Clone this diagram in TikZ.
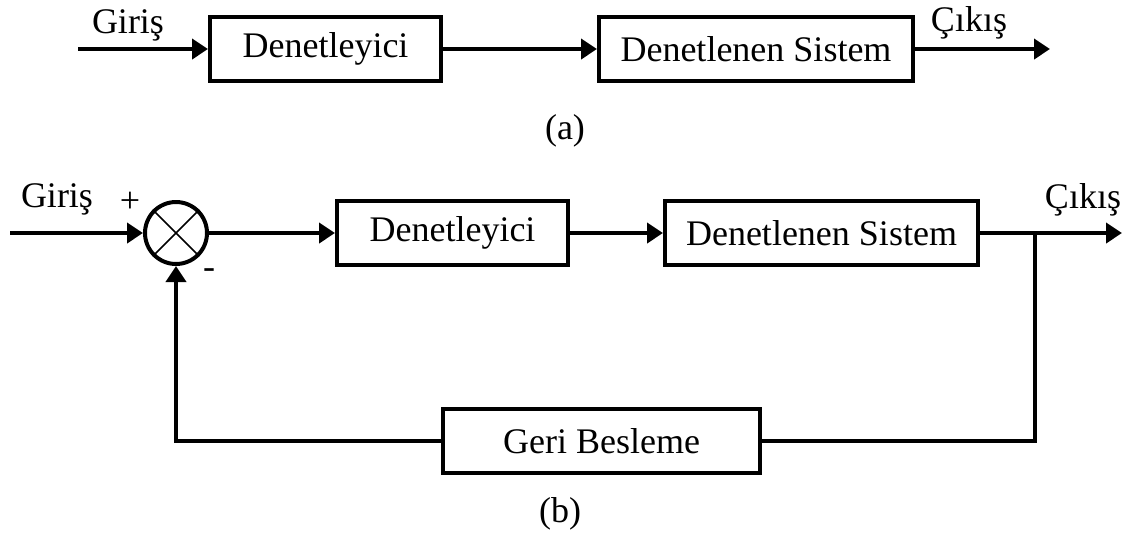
\documentclass[tikz,border=0pt]{standalone}
\usepackage{fontspec}
\setmainfont{Liberation Serif}
\usetikzlibrary{arrows.meta}
\begin{document}
\begin{tikzpicture}[x=0.5pt,y=-0.5pt,line width=2pt,
    font=\fontsize{18}{21}\selectfont,
    blok/.style={draw,line width=2pt,inner sep=0pt,minimum height=32pt},
    ok/.style={-{Triangle[length=8pt,width=10pt]}}]
  \useasboundingbox (0,0) rectangle (1132,538);
  % (a) acik dongu
  \node[blok,minimum width=115.5pt] (den1) at (325.5,49) {Denetleyici};
  \node[blok,minimum width=157pt] (sis1) at (756,49) {Denetlenen Sistem};
  \coordinate (gir1) at (78,49); \coordinate (cik1) at (1050,49);
  \draw[ok] (gir1) -- (den1); \draw[ok] (den1) -- (sis1);
  \draw[ok] (sis1) -- (cik1);
  \node[anchor=base] (tgir1) at (128,33) {Giriş};
  \node[anchor=base] (tcik1) at (969,31) {Çıkış};
  \node[anchor=base] (ta) at (565,139) {(a)};
  % (b) kapali dongu
  \node[draw,circle,line width=2pt,minimum size=31pt,inner sep=0pt]
  (top) at (176,233) {};
  \draw[line width=0.8pt] (top.45) -- (top.225) (top.135) -- (top.315);
  \node[blok,minimum width=115.5pt] (den2) at (452.5,233) {Denetleyici};
  \node[blok,minimum width=156.5pt] (sis2) at (821.5,233)
  {Denetlenen Sistem};
  \node[blok,minimum width=158.5pt] (geri) at (601.5,441) {Geri Besleme};
  \coordinate (gir2) at (10,233); \coordinate (dal) at (1035,233);
  \coordinate (cik2) at (1122,233);
  \draw[ok] (gir2) -- (top); \draw[ok] (top) -- (den2);
  \draw[ok] (den2) -- (sis2);
  \draw (sis2) -- (dal); \draw[ok] (dal) -- (cik2);
  \draw (dal) |- (geri); \draw[ok] (geri) -| (top);
  \node[anchor=base] (tgir2) at (57,207) {Giriş};
  \node (arti) at (130,202) {+}; \node (eksi) at (209,274) {-};
  \node[anchor=base] (tcik2) at (1083,208) {Çıkış};
  \node[anchor=base] (tb) at (560,522) {(b)};
\end{tikzpicture}
\end{document}
